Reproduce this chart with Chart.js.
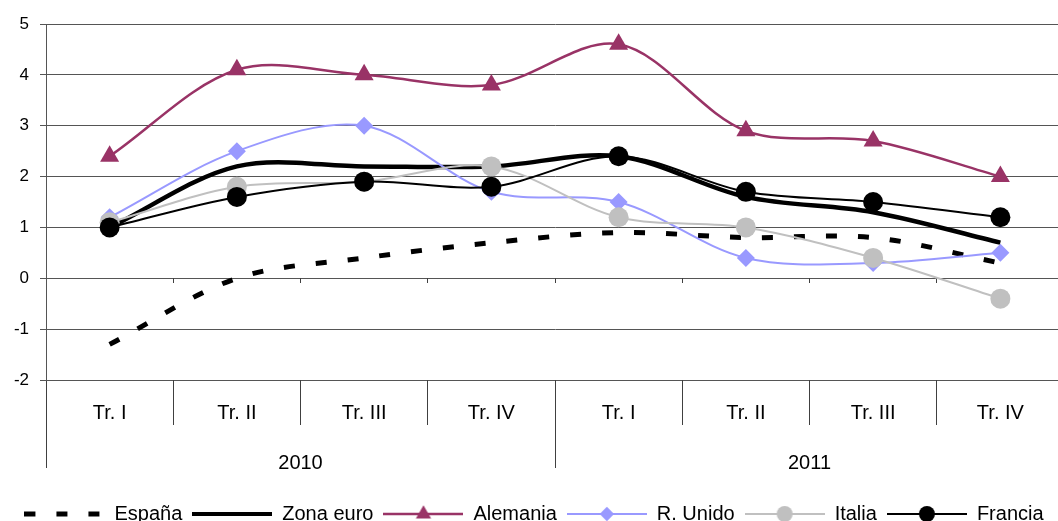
<!DOCTYPE html>
<html>
<head>
<meta charset="utf-8">
<script src="https://cdn.jsdelivr.net/npm/chart.js@4/dist/chart.umd.min.js"></script>
<style>
  html,body{margin:0;padding:0;background:#fff;overflow:hidden}
  canvas{display:block}
</style>
</head>
<body>
<canvas id="chart" width="1075" height="534"></canvas>
<script>
// Crecimiento del PIB, tasas interanuales (%)
const quarters = ['Tr. I','Tr. II','Tr. III','Tr. IV','Tr. I','Tr. II','Tr. III','Tr. IV'];
const years = ['2010','2011'];

const espana   = [-1.3, 0.0, 0.4, 0.7, 0.9, 0.8, 0.8, 0.3];
const zonaEuro = [1.0, 2.2, 2.2, 2.2, 2.4, 1.6, 1.3, 0.7];
const alemania = [2.4, 4.1, 4.0, 3.8, 4.6, 2.9, 2.7, 2.0];
const rUnido   = [1.2, 2.5, 3.0, 1.7, 1.5, 0.4, 0.3, 0.5];
const italia   = [1.1, 1.8, 1.9, 2.2, 1.2, 1.0, 0.4, -0.4];
const francia  = [1.0, 1.6, 1.9, 1.8, 2.4, 1.7, 1.5, 1.2];

const yTicks = [-2, -1, 0, 1, 2, 3, 4, 5];

const FONT = 'Liberation Sans, Arial, sans-serif';
const TENSION = 0.33;

// estilos de cada serie (orden de leyenda)
const series = [
  {label:'España',    data:espana,   color:'#000000', width:5,   dash:[11,21], marker:false,      radius:0,  order:5},
  {label:'Zona euro', data:zonaEuro, color:'#000000', width:4.5, dash:[],      marker:false,      radius:0,  order:4},
  {label:'Alemania',  data:alemania, color:'#993366', width:2.5, dash:[],      marker:'triangle', radius:11, order:3},
  {label:'R. Unido',  data:rUnido,   color:'#9999FF', width:2,   dash:[],      marker:'rectRot',  radius:9,  order:2},
  {label:'Italia',    data:italia,   color:'#C0C0C0', width:2,   dash:[],      marker:'circle',   radius:10, order:1},
  {label:'Francia',   data:francia,  color:'#000000', width:2,   dash:[],      marker:'circle',   radius:10, order:0}
];

// icono de leyenda: línea con marcador en el centro
function legendIcon(s){
  const c = document.createElement('canvas');
  c.width = 80; c.height = 24;
  const g = c.getContext('2d');
  g.strokeStyle = s.color;
  g.lineWidth = Math.min(s.width, 4);
  if (s.label === 'España') g.lineWidth = 5;
  g.setLineDash(s.dash);
  g.beginPath(); g.moveTo(0,12); g.lineTo(80,12); g.stroke();
  g.setLineDash([]);
  if (s.marker){
    g.fillStyle = s.color;
    Chart.helpers.drawPoint(g, {pointStyle:s.marker, radius:s.radius*0.8, borderWidth:0}, 40, 12);
  }
  return c;
}

const datasets = series.map(s => ({
  label: s.label,
  data: s.data,
  borderColor: s.color,
  backgroundColor: s.color,
  borderWidth: s.width,
  borderDash: s.dash,
  borderCapStyle: 'butt',
  tension: TENSION,
  pointStyle: s.marker || 'circle',
  pointRadius: s.radius,
  pointBorderWidth: 0,
  pointBackgroundColor: s.color,
  order: s.order,
  _icon: legendIcon(s)
}));

new Chart(document.getElementById('chart'), {
  type: 'line',
  data: {labels: quarters, datasets},
  options: {
    responsive: false,
    animation: false,
    layout: {padding: {top: 24, right: 7, left: 0, bottom: 0}},
    plugins: {
      tooltip: {enabled: false},
      legend: {
        position: 'bottom',
        labels: {
          usePointStyle: true,
          pointStyleWidth: 80,
          padding: 10,
          color: '#000',
          font: {family: FONT, size: 20},
          generateLabels: chart => chart.data.datasets.map((d,i) => ({
            text: d.label,
            pointStyle: d._icon,
            fontColor: '#000',
            datasetIndex: i,
            hidden: false
          }))
        }
      }
    },
    scales: {
      y: {
        min: -2, max: 5,
        afterBuildTicks: s => { s.ticks = yTicks.map(v => ({value: v})); },
        afterFit: s => { s.width = 46; },
        ticks: {color: '#000', font: {family: FONT, size: 17}, padding: 11},
        grid: {color: '#555', lineWidth: 1, tickLength: 6},
        border: {color: '#555'}
      },
      x: {
        type: 'category',
        offset: true,
        afterFit: s => { s.height = 45; },
        grid: {offset: true, drawOnChartArea: false, tickLength: 45, color: '#404040'},
        border: {display: false},
        ticks: {color: '#000', font: {family: FONT, size: 20}, padding: -24, autoSkip: false, maxRotation: 0}
      },
      xYear: {
        type: 'category',
        axis: 'x',
        position: 'bottom',
        labels: years,
        offset: true,
        afterFit: s => { s.height = 69; },
        grid: {offset: true, drawOnChartArea: false, tickLength: 43, color: '#404040'},
        border: {display: false},
        ticks: {color: '#000', font: {family: FONT, size: 20}, padding: -17, autoSkip: false, maxRotation: 0}
      },
      xZero: {
        type: 'category',
        axis: 'x',
        position: {y: 0},
        offset: true,
        grid: {offset: true, drawOnChartArea: false, tickLength: 5, color: '#404040'},
        border: {display: false},
        ticks: {display: false}
      }
    }
  }
});
</script>
</body>
</html>
